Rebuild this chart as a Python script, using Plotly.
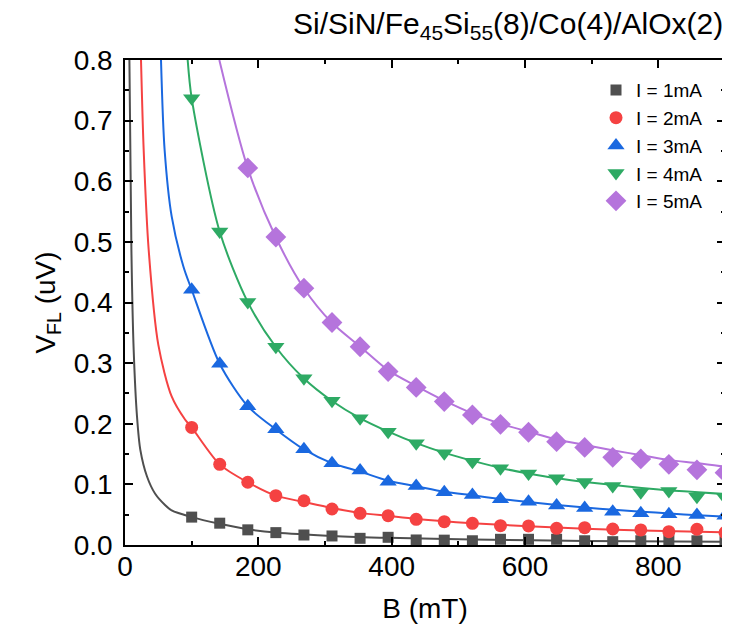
import plotly.graph_objects as go

# ---- data ----
B_data = [100, 142.1, 184.2, 226.3, 268.4, 310.5, 352.6, 394.7, 436.8, 478.9,
          521.1, 563.2, 605.3, 647.4, 689.5, 731.6, 773.7, 815.8, 857.9, 900]

V_1mA = [0.046, 0.036, 0.025, 0.0204, 0.0165, 0.0149, 0.011, 0.0127, 0.0083, 0.008,
         0.007, 0.0094, 0.0094, 0.0094, 0.007, 0.0055, 0.007, 0.0083, 0.007, 0.0055]
V_2mA = [0.194, 0.133, 0.1035, 0.0814, 0.073, 0.0594, 0.0522, 0.0484, 0.0424, 0.0385,
         0.0358, 0.0319, 0.0314, 0.0275, 0.0286, 0.0264, 0.0248, 0.022, 0.026, 0.0204]
V_3mA = [0.421, 0.299, 0.229, 0.191, 0.158, 0.135, 0.1227, 0.1045, 0.0974, 0.087,
         0.0825, 0.0754, 0.0715, 0.065, 0.061, 0.055, 0.0523, 0.0506, 0.0495, 0.0484]
V_4mA = [0.737, 0.517, 0.401, 0.327, 0.275, 0.238, 0.209, 0.187, 0.168, 0.1515,
         0.1375, 0.1265, 0.118, 0.110, 0.104, 0.0974, 0.087, 0.089, 0.0797, 0.078]
V_5mA = [None, None, 0.622, 0.508, 0.4236, 0.367, 0.327, 0.286, 0.260, 0.2365,
         0.2145, 0.199, 0.186, 0.1705, 0.161, 0.1447, 0.142, 0.133, 0.124, 0.1193]

# fitted curves
fit1_B = [6.6, 9.6, 13, 18, 23, 33, 45, 60, 70, 100, 142, 184, 226, 310, 395, 521, 690, 900]
fit1_V = [0.80, 0.487, 0.322, 0.212, 0.157, 0.113, 0.085, 0.066, 0.057, 0.046, 0.035, 0.026,
          0.0205, 0.015, 0.0118, 0.009, 0.0068, 0.0053]
fit2_B = [24, 28, 35.5, 50, 70, 90, 100, 142, 184, 226, 268, 310, 353, 395, 437, 521, 605,
          690, 775, 900]
fit2_V = [0.80, 0.652, 0.487, 0.33, 0.245, 0.207, 0.194, 0.133, 0.1035, 0.0814, 0.071, 0.061,
          0.053, 0.048, 0.043, 0.036, 0.031, 0.027, 0.024, 0.021]
fit3_B = [54, 59.4, 70, 87.7, 100, 142, 184, 226, 268, 310, 353, 395, 437, 479, 521, 563,
          605, 648, 690, 733, 775, 817, 860, 900]
fit3_V = [0.80, 0.652, 0.542, 0.459, 0.421, 0.299, 0.229, 0.191, 0.158, 0.135, 0.121, 0.106,
          0.097, 0.088, 0.082, 0.076, 0.071, 0.066, 0.062, 0.058, 0.055, 0.052, 0.049, 0.0467]
fit4_B = [94, 100, 142, 184, 226, 268, 310, 353, 395, 437, 479, 521, 563, 605, 648, 690, 733,
          775, 817, 860, 900]
fit4_V = [0.80, 0.737, 0.517, 0.401, 0.327, 0.275, 0.238, 0.209, 0.187, 0.168, 0.152, 0.139,
          0.127, 0.118, 0.110, 0.104, 0.099, 0.094, 0.090, 0.087, 0.084]
fit5_B = [141.5, 184, 226, 268, 310, 353, 395, 437, 479, 521, 563, 605, 648, 690, 733, 775,
          817, 860, 900]
fit5_V = [0.80, 0.622, 0.508, 0.424, 0.367, 0.327, 0.288, 0.262, 0.238, 0.217, 0.200, 0.187,
          0.174, 0.165, 0.156, 0.148, 0.140, 0.135, 0.129]

names = ["I = 1mA", "I = 2mA", "I = 3mA", "I = 4mA", "I = 5mA"]
colors = ["#4f4f4f", "#f54242", "#1a68e0", "#2eaa64", "#b574dc"]
symbols = ["square", "circle", "triangle-up", "triangle-down", "diamond"]
sizes = [11, 13, 15, 15, 16]
data_V = [V_1mA, V_2mA, V_3mA, V_4mA, V_5mA]
fits = [(fit1_B, fit1_V), (fit2_B, fit2_V), (fit3_B, fit3_V), (fit4_B, fit4_V), (fit5_B, fit5_V)]

FONT = "Liberation Sans, Arial, sans-serif"

fig = go.Figure()
for (fb, fv), c in zip(fits, colors):
    fig.add_trace(go.Scatter(x=fb, y=fv, mode="lines",
                             line=dict(color=c, width=2, shape="spline", smoothing=0.8),
                             showlegend=False, hoverinfo="skip"))
for n, c, s, sz, v in zip(names, colors, symbols, sizes, data_V):
    fig.add_trace(go.Scatter(x=B_data, y=v, mode="markers", name=n,
                             marker=dict(color=c, symbol=s, size=sz, line=dict(width=0))))

axis_common = dict(showline=True, linecolor="#000000", linewidth=1.5, mirror="ticks",
                   ticks="inside", ticklen=8, tickwidth=1.5, tickcolor="#000000",
                   showgrid=False, zeroline=False,
                   tickfont=dict(family=FONT, size=28, color="#000000"))

# the page body has an 8px margin: size/margins chosen so the plot area sits at 125..727 x 60..545
# and the page does not scroll
fig.update_layout(
    width=722, height=616,
    margin=dict(l=117, r=3, t=52, b=79),
    paper_bgcolor="white", plot_bgcolor="white",
    font=dict(family=FONT, color="#000000"),
    xaxis=dict(range=[0, 900], dtick=200, tick0=0, ticklabelstandoff=-4,
               minor=dict(dtick=100, ticks="inside", ticklen=4, tickwidth=1.5, tickcolor="#000000"),
               title=dict(text="B (mT)", font=dict(family=FONT, size=28), standoff=18),
               **axis_common),
    yaxis=dict(range=[0, 0.8], dtick=0.1, tick0=0, tickformat=".1f", ticklabelstandoff=5,
               minor=dict(dtick=0.05, ticks="inside", ticklen=4, tickwidth=1.5, tickcolor="#000000"),
               title=dict(text="V<sub>FL</sub> (uV)", font=dict(family=FONT, size=28), standoff=10),
               **axis_common),
    legend=dict(x=0.785, y=0.977, xanchor="left", yanchor="top",
                bgcolor="rgba(0,0,0,0)", borderwidth=0,
                font=dict(family=FONT, size=19, color="#000000"),
                tracegroupgap=0),
    annotations=[dict(text="Si/SiN/Fe<sub>45</sub>Si<sub>55</sub>(8)/Co(4)/AlOx(2)",
                      xref="paper", yref="paper", x=1.0, y=1.072, xanchor="right", yanchor="middle",
                      showarrow=False, font=dict(family=FONT, size=30, color="#000000"))],
)

fig.write_html("out.html")
